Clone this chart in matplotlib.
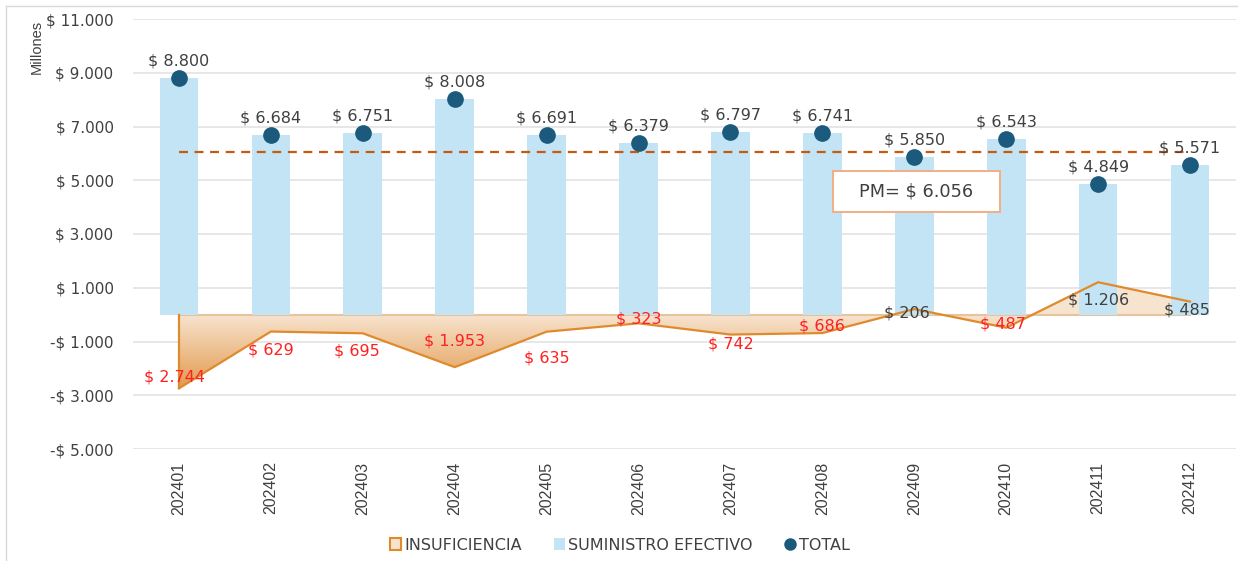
import numpy as np
import matplotlib
matplotlib.use("Agg")
from matplotlib import pyplot as plt
from matplotlib.patches import Polygon, Patch, Rectangle
from matplotlib.lines import Line2D
from matplotlib.colors import LinearSegmentedColormap

# data (millones)
periodos = ["202401", "202402", "202403", "202404", "202405", "202406",
            "202407", "202408", "202409", "202410", "202411", "202412"]
total = [8800, 6684, 6751, 8008, 6691, 6379, 6797, 6741, 5850, 6543, 4849, 5571]
suministro = [8800, 6684, 6751, 8008, 6691, 6379, 6797, 6741, 5850, 6543, 4849, 5571]
insuficiencia = [-2744, -629, -695, -1953, -635, -323, -742, -686, 206, -487, 1206, 485]
promedio = 6056

# label offsets for insuficiencia labels (points, + = up)
ins_off = [8, -13, -13, 19, -19, 3, -7, 5, -3, 3, -13, -6]
ins_dx = [-3, 0, -4, 0, 0, 0, 0, 0, -5, -2, 0, -2]

c_bar = "#C3E4F4"
c_dot = "#1B5A7C"
c_line = "#E08A2E"
c_dash = "#C55A11"
c_txt = "#404040"

plt.rcParams["font.family"] = ["DejaVu Sans"]
narrow = ["Liberation Sans Narrow", "Liberation Sans"]

fig = plt.figure(figsize=(12.46, 5.61), dpi=100)
ax = fig.add_axes([133/1246, 1-449/561, (1236-133)/1246, (449-19)/561])

x = np.arange(len(periodos))

# area de insuficiencia con degradado
y = np.array(insuficiencia, dtype=float)
verts = [(x[0], 0)] + list(zip(x, y)) + [(x[-1], 0)]
poly = Polygon(verts, closed=True, facecolor="none", edgecolor="none")
ax.add_patch(poly)
grad = np.linspace(0, 1, 256).reshape(-1, 1)
cmap = LinearSegmentedColormap.from_list("g", ["#E39A4E", "#F7E4CF"])
im = ax.imshow(grad, extent=[x[0], x[-1], min(y), 0], origin="lower",
               aspect="auto", cmap=cmap, zorder=1)
im.set_clip_path(poly)
ax.fill_between(x, 0, y, where=y > 0, interpolate=True, color="#F7E4CF", zorder=1)
ax.plot([x[0], x[-1]], [0, 0], color="#E6C49E", lw=1.5, zorder=2)
ax.plot(x, y, color=c_line, lw=1.6, zorder=3)
ax.plot([x[0], x[0]], [0, y[0]], color=c_line, lw=1.6, zorder=3)

# barras
ax.bar(x, suministro, width=0.42, color=c_bar, zorder=2)

# puntos total
ax.plot(x, total, "o", color=c_dot, markersize=11, zorder=5)
for xi, v in zip(x, total):
    ax.annotate("$ {:,}".format(v).replace(",", "."), (xi, v), xytext=(0, 7),
                textcoords="offset points", ha="center", va="bottom",
                fontsize=11.5, color=c_txt, zorder=6)

for xi, v, dy, dx in zip(x, insuficiencia, ins_off, ins_dx):
    col = "#FF2020" if v < 0 else c_txt
    ax.annotate("$ {:,}".format(abs(v)).replace(",", "."), (xi, v), xytext=(dx, dy),
                textcoords="offset points", ha="center", va="center",
                fontsize=11.5, color=col, zorder=6)

# promedio
ax.plot([x[0], x[-1]], [promedio, promedio], color=c_dash, lw=1.6,
        dashes=(4, 3), zorder=4)
ax.add_patch(Rectangle((8.02 - 0.9075, 4572 - 762), 1.815, 1524, facecolor="white",
                       edgecolor="#F2AE84", lw=1.4, zorder=7))
ax.text(8.02, 4572, "PM= $ {:,}".format(promedio).replace(",", "."), ha="center", va="center",
        fontsize=12.8, color=c_txt, zorder=8)

ax.set_xlim(-0.5, 11.5)
ax.set_ylim(-5000, 11000)
yt = np.arange(-5000, 11001, 2000)
ax.set_yticks(yt)
ax.set_yticklabels([("-$ " if t < 0 else "$ ") + "{:,}".format(abs(t)).replace(",", ".") for t in yt],
                   fontsize=11, color=c_txt)
ax.set_xticks(x)
ax.set_xticklabels(periodos, rotation=90, fontsize=11.5, color=c_txt, family=narrow)
ax.tick_params(length=0, pad=14)
ax.tick_params(axis="x", pad=9)
ax.grid(axis="y", color="#E3E3E3", lw=1.2, zorder=0)
ax.set_axisbelow(True)
for s in ax.spines.values():
    s.set_visible(False)

fig.text(37/1246, 1-47/561, "Millones", rotation=90, ha="center", va="center",
         fontsize=10.5, color=c_txt, family=narrow)

handles = [Patch(facecolor="#F7E4CF", edgecolor=c_line, lw=1.5),
           Patch(facecolor=c_bar, edgecolor="none"),
           Line2D([], [], marker="o", color=c_dot, ls="none", markersize=8)]
fig.legend(handles, ["INSUFICIENCIA", "SUMINISTRO EFECTIVO", "TOTAL"],
           loc="center", bbox_to_anchor=(620/1246, 1-545/561), ncol=3, frameon=False,
           fontsize=11.5, handlelength=0.7, handleheight=0.7, handletextpad=0.2,
           columnspacing=2.0, labelcolor=c_txt)

# borde del grafico (arriba e izquierda)
fig.add_artist(Line2D([6/1246, 1237/1246], [1-6/561, 1-6/561], color="#D9D9D9", lw=1))
fig.add_artist(Line2D([6/1246, 6/1246], [0, 1-6/561], color="#D9D9D9", lw=1))

fig.savefig("out.png", dpi=100)
